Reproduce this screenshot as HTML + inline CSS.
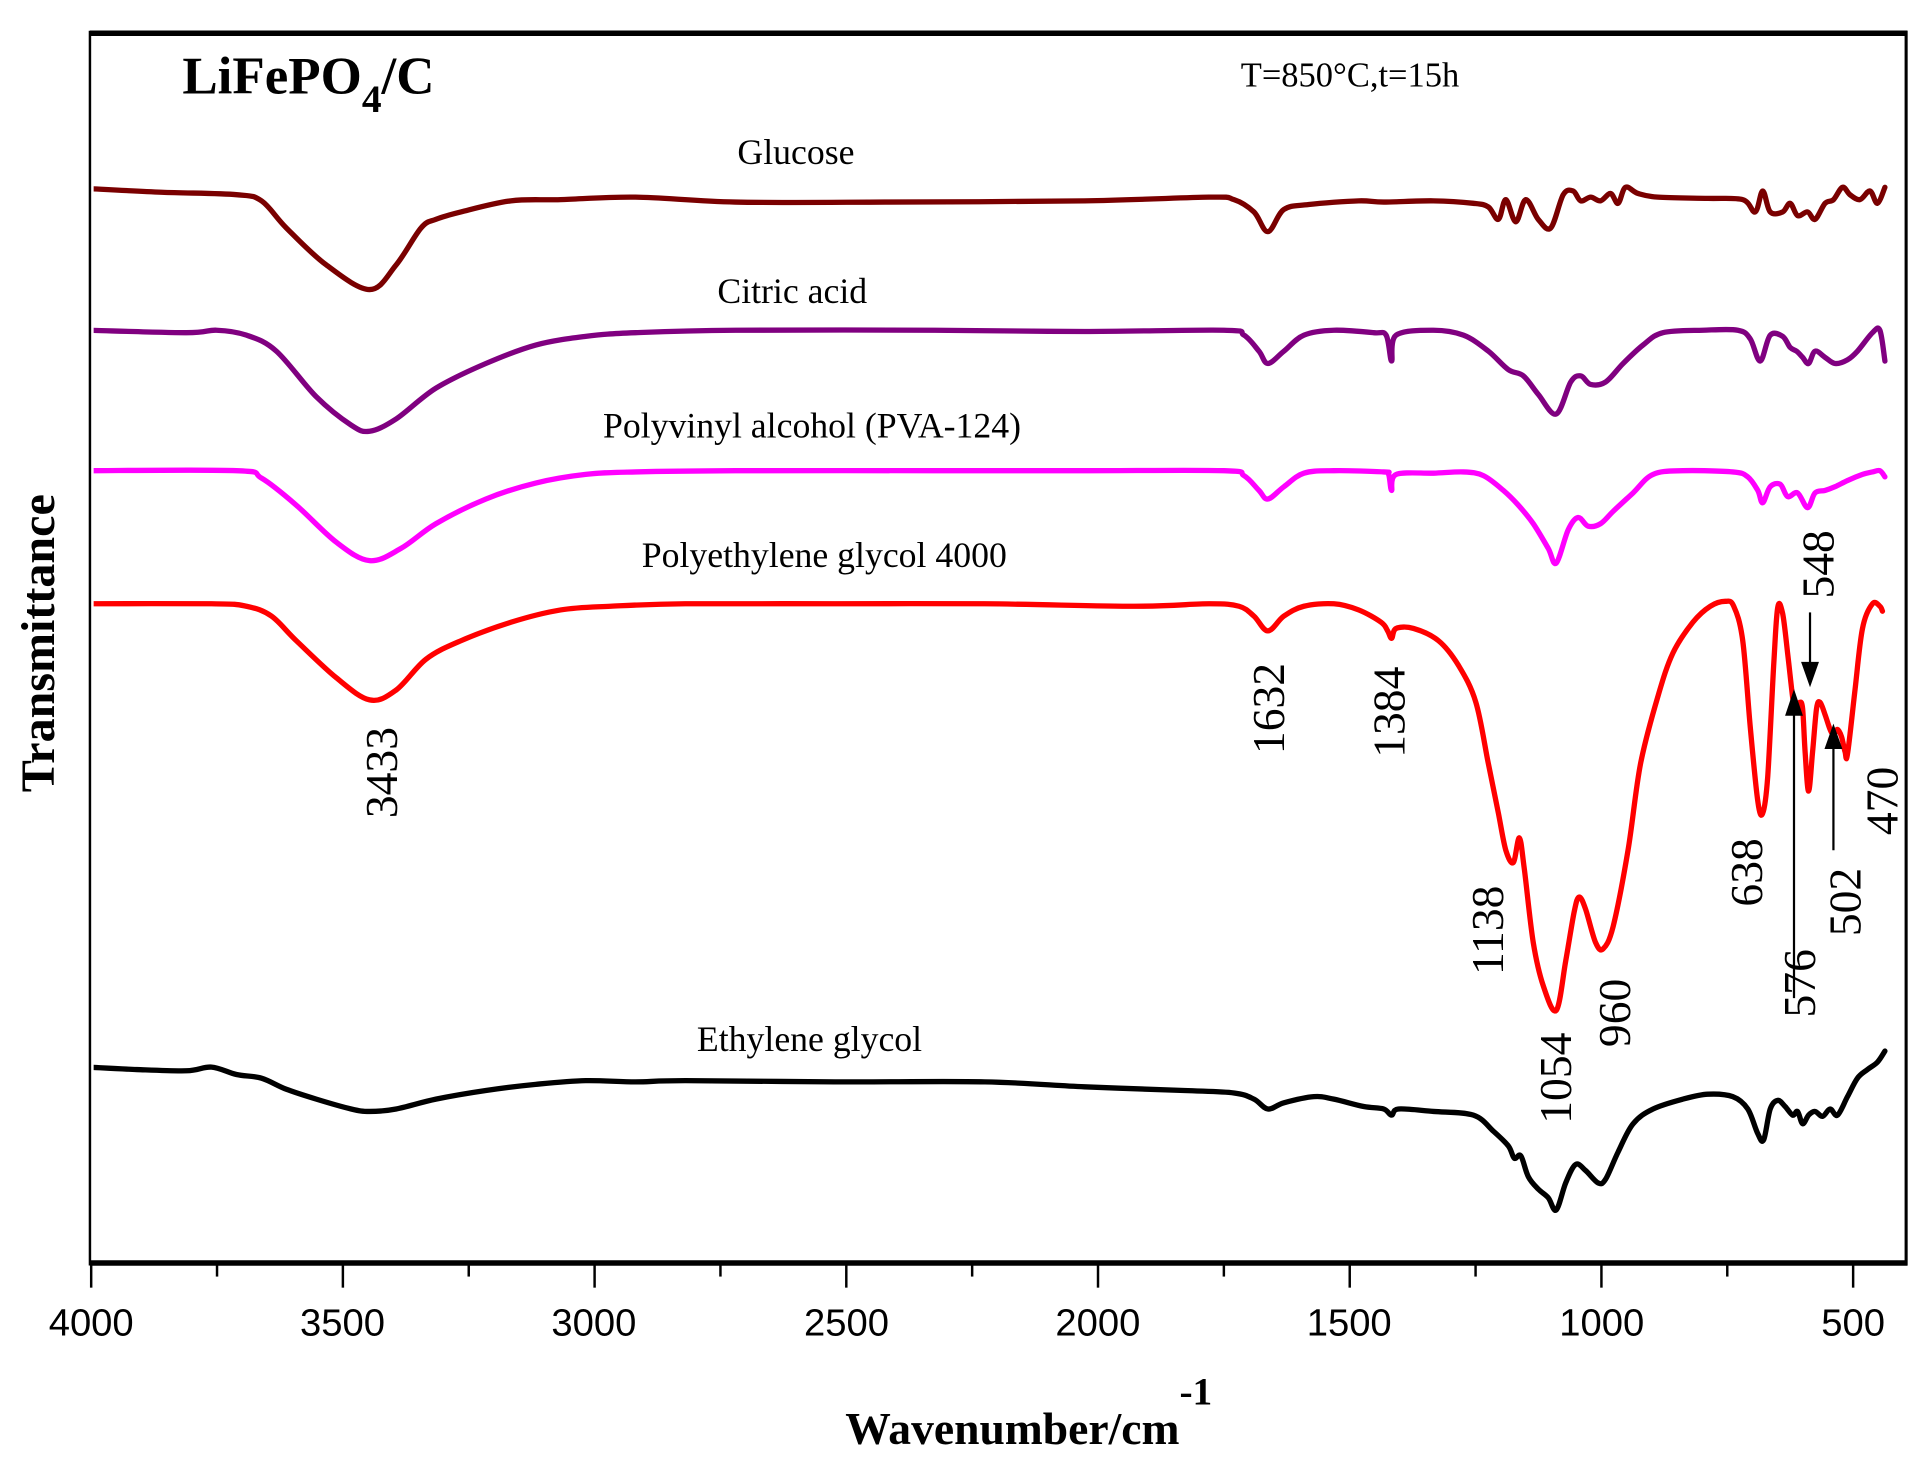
<!DOCTYPE html>
<html><head><meta charset="utf-8"><style>
html,body{margin:0;padding:0;background:#fff;}
svg{display:block;}
</style></head><body>
<svg id="s" width="1932" height="1463" viewBox="0 0 1568 1187.3" preserveAspectRatio="none" xmlns="http://www.w3.org/2000/svg">
<defs><clipPath id="cp"><rect x="76" y="30" width="1456" height="990"/></clipPath></defs>
<rect x="0" y="0" width="1568" height="1188" fill="#fff"/>
<g id="curves" fill="none" stroke-width="4.3" stroke-linejoin="round" stroke-linecap="round" clip-path="url(#cp)"></g>
<line x1="73" y1="27" x2="1548" y2="27" stroke="#000" stroke-width="4.5"/>
<line x1="73" y1="1025" x2="1548" y2="1025" stroke="#000" stroke-width="4.5"/>
<line x1="73" y1="25" x2="73" y2="1027" stroke="#000" stroke-width="2"/>
<line x1="1547" y1="25" x2="1547" y2="1027" stroke="#000" stroke-width="2.5"/>
<g id="ticks" stroke="#000" stroke-width="2"></g>
<g font-family="Liberation Sans, Arial, sans-serif" font-size="31" text-anchor="middle" fill="#000">
<text x="74" y="1084">4000</text><text x="278" y="1084">3500</text><text x="482" y="1084">3000</text>
<text x="687" y="1084">2500</text><text x="891" y="1084">2000</text><text x="1095" y="1084">1500</text>
<text x="1300" y="1084">1000</text><text x="1504" y="1084">500</text>
</g>
<g font-family="Liberation Serif, serif" fill="#000">
<text x="686" y="1172" font-size="37" font-weight="bold">Wavenumber/cm<tspan font-size="32" dy="-32">-1</tspan></text>
<text transform="translate(44,522) rotate(-90)" font-size="39" font-weight="bold" text-anchor="middle">Transmittance</text>
<text x="148" y="76" font-size="43" font-weight="bold">LiFePO<tspan font-size="32" dy="15">4</tspan><tspan dy="-15">/C</tspan></text>
<text x="1007" y="70" font-size="28">T=850°C,t=15h</text>
<g font-size="29" text-anchor="middle">
<text x="646" y="133">Glucose</text>
<text x="643" y="246">Citric acid</text>
<text x="659" y="355">Polyvinyl alcohol (PVA-124)</text>
<text x="669" y="460">Polyethylene glycol 4000</text>
<text x="657" y="853">Ethylene glycol</text>
</g>
<g font-size="37" text-anchor="middle">
<text transform="translate(322,627) rotate(-90)">3433</text>
<text transform="translate(1042,575) rotate(-90)">1632</text>
<text transform="translate(1140,578) rotate(-90)">1384</text>
<text transform="translate(1220,755) rotate(-90)">1138</text>
<text transform="translate(1275,875) rotate(-90)">1054</text>
<text transform="translate(1323,822) rotate(-90)">960</text>
<text transform="translate(1430,708) rotate(-90)">638</text>
<text transform="translate(1473,798) rotate(-90)">576</text>
<text transform="translate(1488,458) rotate(-90)">548</text>
<text transform="translate(1510,732) rotate(-90)">502</text>
<text transform="translate(1540,650) rotate(-90)">470</text>
</g>
</g>
<g stroke="#000" stroke-width="1.8" fill="#000">
<line x1="1469" y1="497" x2="1469" y2="540"/><polygon points="1463,538 1475,538 1469,555"/>
<line x1="1456" y1="810" x2="1456" y2="578"/><polygon points="1450,580 1462,580 1456,562"/>
<line x1="1488" y1="690" x2="1488" y2="605"/><polygon points="1482,607 1494,607 1488,590"/>
</g>
</svg>
<script>
function X(w){return 300+(3433-w)*0.4048;}
function XT(w){return 74+(4000-w)*0.40857;}
var data=[
["#7a0000",[[4000,153],[3850,156],[3700,158],[3650,163],[3600,185],[3520,215],[3433,235],[3380,215],[3330,185],[3300,178],[3250,172],[3150,163],[3050,162],[2900,160],[2700,164],[2400,164],[2000,163],[1750,160],[1700,162],[1660,172],[1632,188],[1600,170],[1550,166],[1450,163],[1400,164],[1300,163],[1220,165],[1190,168],[1170,178],[1155,162],[1135,180],[1115,162],[1090,178],[1065,185],[1040,158],[1020,155],[1005,163],[985,160],[965,163],[945,157],[930,165],[915,152],[890,157],[850,160],[750,161],[680,162],[655,172],[640,155],[625,172],[600,172],[585,165],[570,175],[550,172],[535,178],[515,165],[498,162],[480,152],[465,158],[445,162],[425,155],[410,165],[395,152]]],
["#800080",[[4000,268],[3800,270],[3740,268],[3680,272],[3620,285],[3540,322],[3470,345],[3433,350],[3380,340],[3300,315],[3200,295],[3100,280],[3000,273],[2900,270],[2700,268],[2300,268],[2000,269],[1720,268],[1680,272],[1650,285],[1632,295],[1600,285],[1560,272],[1500,268],[1420,270],[1395,272],[1384,293],[1375,272],[1300,268],[1240,272],[1190,285],[1150,300],[1120,305],[1090,320],[1054,336],[1025,310],[1005,305],[985,312],[955,310],[920,295],[880,280],[840,270],[760,268],[690,268],[665,275],[645,293],[625,272],[600,273],[585,282],[572,285],[560,290],[548,295],[535,285],[515,290],[495,295],[470,292],[450,285],[420,270],[405,268],[395,293]]],
["#ff00ff",[[4000,382],[3700,382],[3650,388],[3580,410],[3500,440],[3433,455],[3370,445],[3300,425],[3200,405],[3100,392],[3000,385],[2900,383],[2700,382],[2300,382],[2000,382],[1720,382],[1680,386],[1650,398],[1632,405],[1600,395],[1560,384],[1500,382],[1400,383],[1390,385],[1384,398],[1375,385],[1300,384],[1240,383],[1200,386],[1160,398],[1130,410],[1100,425],[1070,445],[1054,457],[1030,430],[1010,420],[990,427],[965,425],[940,415],[900,400],[860,385],[800,382],[700,383],[670,387],[650,398],[640,408],[625,395],[605,393],[590,403],[570,400],[550,412],[535,400],[515,398],[495,395],[470,390],[440,385],[420,383],[405,382],[395,387]]],
["#ff0000",[[4000,490],[3750,490],[3680,492],[3630,500],[3580,520],[3500,550],[3433,568],[3380,560],[3320,535],[3250,520],[3150,505],[3050,495],[2950,492],[2800,490],[2500,490],[2200,490],[1900,492],[1750,490],[1690,492],[1660,500],[1632,512],[1600,500],[1560,492],[1500,490],[1450,495],[1405,505],[1392,512],[1384,518],[1375,510],[1340,510],[1290,520],[1250,540],[1215,570],[1190,620],[1170,660],[1155,690],[1140,700],[1128,680],[1118,705],[1100,765],[1080,800],[1054,820],[1035,780],[1018,740],[1008,728],[995,738],[975,765],[960,770],[940,752],[910,690],[885,620],[850,565],[820,530],[780,505],[745,492],[715,488],[698,492],[680,520],[665,590],[650,650],[640,660],[630,630],[618,540],[610,493],[600,498],[590,530],[578,572],[572,575],[566,570],[560,575],[555,610],[548,642],[540,610],[532,575],[525,570],[515,580],[505,592],[498,596],[490,592],[482,598],[475,610],[470,612],[455,560],[440,510],[420,490],[405,492],[400,496]]],
["#000000",[[4000,866],[3900,868],[3800,869],[3750,866],[3700,872],[3650,875],[3600,884],[3540,892],[3470,900],[3433,902],[3380,900],[3300,892],[3200,885],[3100,880],[3000,877],[2900,878],[2800,877],[2500,878],[2200,878],[2000,882],[1800,885],[1700,887],[1660,892],[1632,900],[1600,895],[1540,890],[1500,892],[1440,898],[1400,900],[1384,905],[1370,900],[1300,902],[1220,905],[1180,918],[1150,930],[1138,940],[1125,938],[1110,955],[1090,965],[1070,972],[1054,982],[1035,960],[1015,945],[995,950],[970,960],[955,957],[930,935],[900,912],[860,900],[800,892],[750,888],[700,890],[670,900],[650,920],[638,925],[625,900],[610,893],[595,898],[580,905],[570,902],[560,912],[548,905],[535,902],[520,906],[505,900],[490,905],[470,890],[450,875],[430,868],[410,862],[395,853]]]
];
function smooth(pts){
 var p=pts.map(function(a){return [X(a[0]),a[1]];});
 var d="M"+p[0][0].toFixed(1)+","+p[0][1];
 for(var i=0;i<p.length-1;i++){
  var p0=p[i-1]||p[i],p1=p[i],p2=p[i+1],p3=p[i+2]||p2;
  var c1x=p1[0]+(p2[0]-p0[0])/6,c1y=p1[1]+(p2[1]-p0[1])/6;
  var c2x=p2[0]-(p3[0]-p1[0])/6,c2y=p2[1]-(p3[1]-p1[1])/6;
  d+=" C"+c1x.toFixed(1)+","+c1y.toFixed(1)+" "+c2x.toFixed(1)+","+c2y.toFixed(1)+" "+p2[0].toFixed(1)+","+p2[1];
 }
 return d;
}
var NS="http://www.w3.org/2000/svg",g=document.getElementById("curves");
data.forEach(function(s){var e=document.createElementNS(NS,"path");e.setAttribute("d",smooth(s[1]));e.setAttribute("stroke",s[0]);g.appendChild(e);});
var t=document.getElementById("ticks");
for(var w=4000;w>=400;w-=250){var x=XT(w),major=(w%500===0);var l=document.createElementNS(NS,"line");
l.setAttribute("x1",x);l.setAttribute("x2",x);l.setAttribute("y1",1025);l.setAttribute("y2",major?1045:1036);t.appendChild(l);}
</script>
</body></html>
